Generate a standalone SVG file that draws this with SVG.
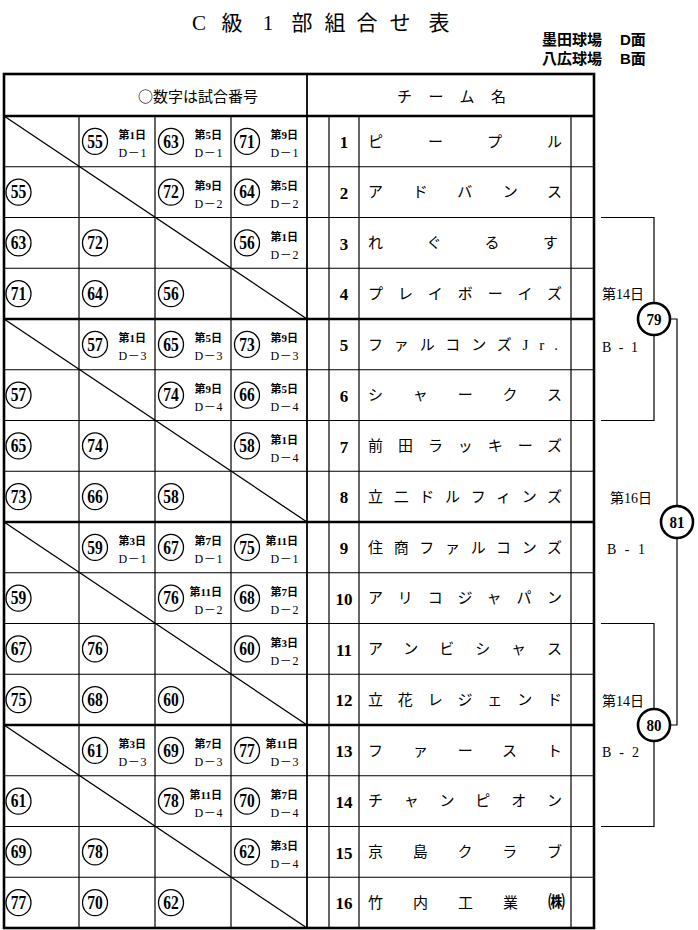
<svg xmlns="http://www.w3.org/2000/svg" width="698" height="930" viewBox="0 0 698 930">
<style>
.bg{fill:#fff}
.ln{stroke:#000;stroke-width:1.2;fill:none}
.tk{stroke:#000;stroke-width:2.6;fill:none}
.md{stroke:#000;stroke-width:1.8;fill:none}
.dg{stroke:#000;stroke-width:1.3}
.c{fill:#fff;stroke:#000;stroke-width:1.3}
.bc{fill:#fff;stroke:#000;stroke-width:2.6}
.cn{font-family:"Liberation Serif",serif;font-weight:bold;font-size:18px;text-anchor:middle}
.bn{font-family:"Liberation Serif",serif;font-weight:bold;font-size:17px;text-anchor:middle}
.d{font-family:"Liberation Serif","Noto Sans CJK JP",serif;font-weight:bold;font-size:11px;text-anchor:end}
.e{font-family:"Liberation Serif","Noto Sans CJK JP",serif;font-size:12px;text-anchor:end;letter-spacing:0.6px}
.num{font-family:"Liberation Serif",serif;font-weight:bold;font-size:17px;text-anchor:middle}
.nm{font-family:"Liberation Serif","Noto Sans CJK JP",serif;font-size:15px}
.hd{font-family:"Noto Sans CJK JP",sans-serif;font-size:15px}
.tt{font-family:"Liberation Serif","Noto Sans CJK JP",serif;font-size:21px;text-anchor:middle}
.sb{font-family:"Liberation Sans","Noto Sans CJK JP",sans-serif;font-weight:bold;font-size:15px}
.lb{font-family:"Liberation Serif","Noto Sans CJK JP",serif;font-size:14px}
.kk{font-size:17px;font-weight:bold}
</style>
<defs>
<ellipse id="ov" class="c" rx="12.5" ry="13"/>
</defs>
<rect class="bg" x="0" y="0" width="698" height="930"/>

<g id="title">
<text class="tt" x="199" y="30">C</text>
<text class="tt" x="232" y="30">級</text>
<text class="tt" x="268" y="30">1</text>
<text class="tt" x="302" y="30">部</text>
<text class="tt" x="335" y="30">組</text>
<text class="tt" x="367" y="30">合</text>
<text class="tt" x="400" y="30">せ</text>
<text class="tt" x="439" y="30">表</text>
</g>
<g id="venues">
<text class="sb" x="542" y="45">墨田球場</text>
<text class="sb" x="620" y="45">D面</text>
<text class="sb" x="542" y="64">八広球場</text>
<text class="sb" x="620" y="64">B面</text>
</g>

<g id="grid">
<path class="ln" d="M4 166.75H594M4 217.5H594M4 268.25H594M4 369.75H594M4 420.5H594M4 471.25H594M4 572.75H594M4 623.5H594M4 674.25H594M4 775.75H594M4 826.5H594M4 877.25H594"/>
<path class="ln" d="M79 116V928M155 116V928M231 116V928M329 116V928M359 116V928M571 116V928"/>
<path class="md" d="M307 74V928"/>
<path class="tk" d="M4 116H594M4 319H594M4 522H594M4 725H594"/>
<rect class="tk" x="4" y="74" width="590" height="854"/>
<path class="dg" d="M4 116L307 319M4 319L307 522M4 522L307 725M4 725L307 928"/>
</g>

<g id="header">
<text class="hd" x="138" y="102">○数字は試合番号</text>
<text class="hd" x="397" y="102" textLength="109" lengthAdjust="spacing">チーム名</text>
</g>

<g id="team-1" transform="translate(0,116)">
<use href="#ov" x="95" y="25.4"/><text class="cn" x="95" y="31.5" textLength="15.5" lengthAdjust="spacingAndGlyphs">55</text><text class="d" x="146" y="23">第1日</text><text class="e" x="147" y="41">D－1</text>
<use href="#ov" x="171" y="25.4"/><text class="cn" x="171" y="31.5" textLength="15.5" lengthAdjust="spacingAndGlyphs">63</text><text class="d" x="222" y="23">第5日</text><text class="e" x="223" y="41">D－1</text>
<use href="#ov" x="247" y="25.4"/><text class="cn" x="247" y="31.5" textLength="15.5" lengthAdjust="spacingAndGlyphs">71</text><text class="d" x="298" y="23">第9日</text><text class="e" x="299" y="41">D－1</text>
<text class="num" x="344" y="32">1</text><text class="nm" x="368" y="30.5" textLength="194" lengthAdjust="spacing">ピープル</text>
</g>
<g id="team-2" transform="translate(0,166.75)">
<use href="#ov" x="18.5" y="25.4"/><text class="cn" x="18.5" y="31.5" textLength="15.5" lengthAdjust="spacingAndGlyphs">55</text>
<use href="#ov" x="171" y="25.4"/><text class="cn" x="171" y="31.5" textLength="15.5" lengthAdjust="spacingAndGlyphs">72</text><text class="d" x="222" y="23">第9日</text><text class="e" x="223" y="41">D－2</text>
<use href="#ov" x="247" y="25.4"/><text class="cn" x="247" y="31.5" textLength="15.5" lengthAdjust="spacingAndGlyphs">64</text><text class="d" x="298" y="23">第5日</text><text class="e" x="299" y="41">D－2</text>
<text class="num" x="344" y="32">2</text><text class="nm" x="368" y="30.5" textLength="194" lengthAdjust="spacing">アドバンス</text>
</g>
<g id="team-3" transform="translate(0,217.5)">
<use href="#ov" x="18.5" y="25.4"/><text class="cn" x="18.5" y="31.5" textLength="15.5" lengthAdjust="spacingAndGlyphs">63</text>
<use href="#ov" x="95" y="25.4"/><text class="cn" x="95" y="31.5" textLength="15.5" lengthAdjust="spacingAndGlyphs">72</text>
<use href="#ov" x="247" y="25.4"/><text class="cn" x="247" y="31.5" textLength="15.5" lengthAdjust="spacingAndGlyphs">56</text><text class="d" x="298" y="23">第1日</text><text class="e" x="299" y="41">D－2</text>
<text class="num" x="344" y="32">3</text><text class="nm" x="368" y="30.5" textLength="190" lengthAdjust="spacing">れぐるす</text>
</g>
<g id="team-4" transform="translate(0,268.25)">
<use href="#ov" x="18.5" y="25.4"/><text class="cn" x="18.5" y="31.5" textLength="15.5" lengthAdjust="spacingAndGlyphs">71</text>
<use href="#ov" x="95" y="25.4"/><text class="cn" x="95" y="31.5" textLength="15.5" lengthAdjust="spacingAndGlyphs">64</text>
<use href="#ov" x="171" y="25.4"/><text class="cn" x="171" y="31.5" textLength="15.5" lengthAdjust="spacingAndGlyphs">56</text>
<text class="num" x="344" y="32">4</text><text class="nm" x="368" y="30.5" textLength="194" lengthAdjust="spacing">プレイボーイズ</text>
</g>

<g id="team-5" transform="translate(0,319)">
<use href="#ov" x="95" y="25.4"/><text class="cn" x="95" y="31.5" textLength="15.5" lengthAdjust="spacingAndGlyphs">57</text><text class="d" x="146" y="23">第1日</text><text class="e" x="147" y="41">D－3</text>
<use href="#ov" x="171" y="25.4"/><text class="cn" x="171" y="31.5" textLength="15.5" lengthAdjust="spacingAndGlyphs">65</text><text class="d" x="222" y="23">第5日</text><text class="e" x="223" y="41">D－3</text>
<use href="#ov" x="247" y="25.4"/><text class="cn" x="247" y="31.5" textLength="15.5" lengthAdjust="spacingAndGlyphs">73</text><text class="d" x="298" y="23">第9日</text><text class="e" x="299" y="41">D－3</text>
<text class="num" x="344" y="32">5</text><text class="nm" x="368" y="30.5" textLength="190" lengthAdjust="spacing">ファルコンズJr.</text>
</g>
<g id="team-6" transform="translate(0,369.75)">
<use href="#ov" x="18.5" y="25.4"/><text class="cn" x="18.5" y="31.5" textLength="15.5" lengthAdjust="spacingAndGlyphs">57</text>
<use href="#ov" x="171" y="25.4"/><text class="cn" x="171" y="31.5" textLength="15.5" lengthAdjust="spacingAndGlyphs">74</text><text class="d" x="222" y="23">第9日</text><text class="e" x="223" y="41">D－4</text>
<use href="#ov" x="247" y="25.4"/><text class="cn" x="247" y="31.5" textLength="15.5" lengthAdjust="spacingAndGlyphs">66</text><text class="d" x="298" y="23">第5日</text><text class="e" x="299" y="41">D－4</text>
<text class="num" x="344" y="32">6</text><text class="nm" x="368" y="30.5" textLength="194" lengthAdjust="spacing">シャークス</text>
</g>
<g id="team-7" transform="translate(0,420.5)">
<use href="#ov" x="18.5" y="25.4"/><text class="cn" x="18.5" y="31.5" textLength="15.5" lengthAdjust="spacingAndGlyphs">65</text>
<use href="#ov" x="95" y="25.4"/><text class="cn" x="95" y="31.5" textLength="15.5" lengthAdjust="spacingAndGlyphs">74</text>
<use href="#ov" x="247" y="25.4"/><text class="cn" x="247" y="31.5" textLength="15.5" lengthAdjust="spacingAndGlyphs">58</text><text class="d" x="298" y="23">第1日</text><text class="e" x="299" y="41">D－4</text>
<text class="num" x="344" y="32">7</text><text class="nm" x="368" y="30.5" textLength="194" lengthAdjust="spacing">前田ラッキーズ</text>
</g>
<g id="team-8" transform="translate(0,471.25)">
<use href="#ov" x="18.5" y="25.4"/><text class="cn" x="18.5" y="31.5" textLength="15.5" lengthAdjust="spacingAndGlyphs">73</text>
<use href="#ov" x="95" y="25.4"/><text class="cn" x="95" y="31.5" textLength="15.5" lengthAdjust="spacingAndGlyphs">66</text>
<use href="#ov" x="171" y="25.4"/><text class="cn" x="171" y="31.5" textLength="15.5" lengthAdjust="spacingAndGlyphs">58</text>
<text class="num" x="344" y="32">8</text><text class="nm" x="368" y="30.5" textLength="194" lengthAdjust="spacing">立二ドルフィンズ</text>
</g>

<g id="team-9" transform="translate(0,522)">
<use href="#ov" x="95" y="25.4"/><text class="cn" x="95" y="31.5" textLength="15.5" lengthAdjust="spacingAndGlyphs">59</text><text class="d" x="146" y="23">第3日</text><text class="e" x="147" y="41">D－1</text>
<use href="#ov" x="171" y="25.4"/><text class="cn" x="171" y="31.5" textLength="15.5" lengthAdjust="spacingAndGlyphs">67</text><text class="d" x="222" y="23">第7日</text><text class="e" x="223" y="41">D－1</text>
<use href="#ov" x="247" y="25.4"/><text class="cn" x="247" y="31.5" textLength="15.5" lengthAdjust="spacingAndGlyphs">75</text><text class="d" x="298" y="23">第11日</text><text class="e" x="299" y="41">D－1</text>
<text class="num" x="344" y="32">9</text><text class="nm" x="368" y="30.5" textLength="194" lengthAdjust="spacing">住商ファルコンズ</text>
</g>
<g id="team-10" transform="translate(0,572.75)">
<use href="#ov" x="18.5" y="25.4"/><text class="cn" x="18.5" y="31.5" textLength="15.5" lengthAdjust="spacingAndGlyphs">59</text>
<use href="#ov" x="171" y="25.4"/><text class="cn" x="171" y="31.5" textLength="15.5" lengthAdjust="spacingAndGlyphs">76</text><text class="d" x="222" y="23">第11日</text><text class="e" x="223" y="41">D－2</text>
<use href="#ov" x="247" y="25.4"/><text class="cn" x="247" y="31.5" textLength="15.5" lengthAdjust="spacingAndGlyphs">68</text><text class="d" x="298" y="23">第7日</text><text class="e" x="299" y="41">D－2</text>
<text class="num" x="344" y="32">10</text><text class="nm" x="368" y="30.5" textLength="194" lengthAdjust="spacing">アリコジャパン</text>
</g>
<g id="team-11" transform="translate(0,623.5)">
<use href="#ov" x="18.5" y="25.4"/><text class="cn" x="18.5" y="31.5" textLength="15.5" lengthAdjust="spacingAndGlyphs">67</text>
<use href="#ov" x="95" y="25.4"/><text class="cn" x="95" y="31.5" textLength="15.5" lengthAdjust="spacingAndGlyphs">76</text>
<use href="#ov" x="247" y="25.4"/><text class="cn" x="247" y="31.5" textLength="15.5" lengthAdjust="spacingAndGlyphs">60</text><text class="d" x="298" y="23">第3日</text><text class="e" x="299" y="41">D－2</text>
<text class="num" x="344" y="32">11</text><text class="nm" x="368" y="30.5" textLength="194" lengthAdjust="spacing">アンビシャス</text>
</g>
<g id="team-12" transform="translate(0,674.25)">
<use href="#ov" x="18.5" y="25.4"/><text class="cn" x="18.5" y="31.5" textLength="15.5" lengthAdjust="spacingAndGlyphs">75</text>
<use href="#ov" x="95" y="25.4"/><text class="cn" x="95" y="31.5" textLength="15.5" lengthAdjust="spacingAndGlyphs">68</text>
<use href="#ov" x="171" y="25.4"/><text class="cn" x="171" y="31.5" textLength="15.5" lengthAdjust="spacingAndGlyphs">60</text>
<text class="num" x="344" y="32">12</text><text class="nm" x="368" y="30.5" textLength="194" lengthAdjust="spacing">立花レジェンド</text>
</g>

<g id="team-13" transform="translate(0,725)">
<use href="#ov" x="95" y="25.4"/><text class="cn" x="95" y="31.5" textLength="15.5" lengthAdjust="spacingAndGlyphs">61</text><text class="d" x="146" y="23">第3日</text><text class="e" x="147" y="41">D－3</text>
<use href="#ov" x="171" y="25.4"/><text class="cn" x="171" y="31.5" textLength="15.5" lengthAdjust="spacingAndGlyphs">69</text><text class="d" x="222" y="23">第7日</text><text class="e" x="223" y="41">D－3</text>
<use href="#ov" x="247" y="25.4"/><text class="cn" x="247" y="31.5" textLength="15.5" lengthAdjust="spacingAndGlyphs">77</text><text class="d" x="298" y="23">第11日</text><text class="e" x="299" y="41">D－3</text>
<text class="num" x="344" y="32">13</text><text class="nm" x="368" y="30.5" textLength="194" lengthAdjust="spacing">ファースト</text>
</g>
<g id="team-14" transform="translate(0,775.75)">
<use href="#ov" x="18.5" y="25.4"/><text class="cn" x="18.5" y="31.5" textLength="15.5" lengthAdjust="spacingAndGlyphs">61</text>
<use href="#ov" x="171" y="25.4"/><text class="cn" x="171" y="31.5" textLength="15.5" lengthAdjust="spacingAndGlyphs">78</text><text class="d" x="222" y="23">第11日</text><text class="e" x="223" y="41">D－4</text>
<use href="#ov" x="247" y="25.4"/><text class="cn" x="247" y="31.5" textLength="15.5" lengthAdjust="spacingAndGlyphs">70</text><text class="d" x="298" y="23">第7日</text><text class="e" x="299" y="41">D－4</text>
<text class="num" x="344" y="32">14</text><text class="nm" x="368" y="30.5" textLength="194" lengthAdjust="spacing">チャンピオン</text>
</g>
<g id="team-15" transform="translate(0,826.5)">
<use href="#ov" x="18.5" y="25.4"/><text class="cn" x="18.5" y="31.5" textLength="15.5" lengthAdjust="spacingAndGlyphs">69</text>
<use href="#ov" x="95" y="25.4"/><text class="cn" x="95" y="31.5" textLength="15.5" lengthAdjust="spacingAndGlyphs">78</text>
<use href="#ov" x="247" y="25.4"/><text class="cn" x="247" y="31.5" textLength="15.5" lengthAdjust="spacingAndGlyphs">62</text><text class="d" x="298" y="23">第3日</text><text class="e" x="299" y="41">D－4</text>
<text class="num" x="344" y="32">15</text><text class="nm" x="368" y="30.5" textLength="194" lengthAdjust="spacing">京島クラブ</text>
</g>
<g id="team-16" transform="translate(0,877.25)">
<use href="#ov" x="18.5" y="25.4"/><text class="cn" x="18.5" y="31.5" textLength="15.5" lengthAdjust="spacingAndGlyphs">77</text>
<use href="#ov" x="95" y="25.4"/><text class="cn" x="95" y="31.5" textLength="15.5" lengthAdjust="spacingAndGlyphs">70</text>
<use href="#ov" x="171" y="25.4"/><text class="cn" x="171" y="31.5" textLength="15.5" lengthAdjust="spacingAndGlyphs">62</text>
<text class="num" x="344" y="32">16</text><text class="nm" x="368" y="30.5" textLength="197" lengthAdjust="spacing">竹内工業<tspan class="kk">㈱</tspan></text>
</g>

<g id="connectors">
<path class="ln" d="M601 217.5H654V420.5H601"/>
<path class="ln" d="M601 623.5H654V826.5H601"/>
<path class="ln" d="M654 319H677V725H654"/>
</g>

<g id="match-79">
<circle class="bc" cx="654" cy="319" r="16"/>
<text class="bn" x="654" y="325" textLength="15" lengthAdjust="spacingAndGlyphs">79</text>
</g>
<g id="match-80">
<circle class="bc" cx="654" cy="725" r="16"/>
<text class="bn" x="654" y="731" textLength="15" lengthAdjust="spacingAndGlyphs">80</text>
</g>
<g id="match-81">
<circle class="bc" cx="677" cy="522" r="16"/>
<text class="bn" x="677" y="528" textLength="15" lengthAdjust="spacingAndGlyphs">81</text>
</g>

<g id="labels">
<text class="lb" x="602" y="299">第14日</text>
<text class="lb" x="602" y="352" textLength="36" lengthAdjust="spacing">B - 1</text>
<text class="lb" x="610" y="503">第16日</text>
<text class="lb" x="607" y="554" textLength="38" lengthAdjust="spacing">B - 1</text>
<text class="lb" x="602" y="706">第14日</text>
<text class="lb" x="602" y="757" textLength="37" lengthAdjust="spacing">B - 2</text>
</g>
</svg>
